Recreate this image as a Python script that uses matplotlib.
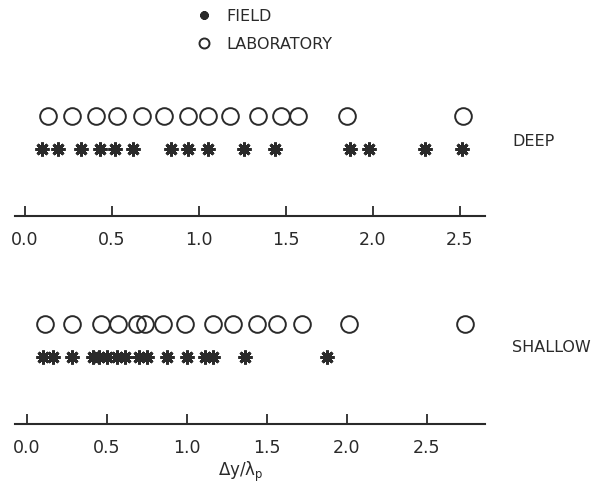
import matplotlib
matplotlib.use('Agg')
import matplotlib.pyplot as plt

# values (dy / lambda_p)
deep_lab = [0.13, 0.27, 0.41, 0.53, 0.67, 0.80, 0.94, 1.05, 1.18, 1.34, 1.47, 1.57, 1.85, 2.52]
deep_field = [0.10, 0.19, 0.32, 0.43, 0.52, 0.62, 0.84, 0.94, 1.05, 1.26, 1.44, 1.87, 1.98, 2.30, 2.51]
shallow_lab = [0.11, 0.28, 0.46, 0.57, 0.69, 0.74, 0.85, 0.99, 1.16, 1.29, 1.44, 1.56, 1.72, 2.01, 2.74]
shallow_field = [0.10, 0.16, 0.28, 0.41, 0.45, 0.50, 0.56, 0.61, 0.70, 0.75, 0.875, 1.0, 1.11, 1.16,
                 1.36, 1.875]
tick_values = [0.0, 0.5, 1.0, 1.5, 2.0, 2.5]
tick_labels = ['0.0', '0.5', '1.0', '1.5', '2.0', '2.5']
panel_names = ['DEEP', 'SHALLOW']

plt.rcParams['font.family'] = ['DejaVu Sans']
plt.rcParams['mathtext.default'] = 'regular'
ink = '#2a2a2a'
W, H = 605, 489

fig = plt.figure(figsize=(W / 100, H / 100), dpi=100)


def px_axes(left, bottom_y, height):
    # left/bottom in pixels from top-left of the picture
    return fig.add_axes([left / W, 1 - bottom_y / H, 470 / W, height / H])


ax_top = px_axes(15, 217, 117)
ax_bot = px_axes(15, 425, 117)
ax_top.set_xlim(-0.057, 2.644)
ax_bot.set_xlim(-0.075, 2.8625)

star = (8, 2, 0)
handles = []
for ax, lab, field in [(ax_top, deep_lab, deep_field), (ax_bot, shallow_lab, shallow_field)]:
    h_lab, = ax.plot(lab, [3] * len(lab), linestyle='None', marker='o', markersize=12,
                     markerfacecolor='none', markeredgecolor=ink, markeredgewidth=1.4)
    h_field, = ax.plot(field, [2] * len(field), linestyle='None', marker=star, markersize=10,
                       markeredgecolor=ink, markeredgewidth=2.1)
    handles = [h_field, h_lab]
    ax.set_ylim(0, 3.5)
    ax.set_yticks([])
    for side in ['left', 'right', 'top']:
        ax.spines[side].set_visible(False)
    ax.spines['bottom'].set_linewidth(1.5)
    ax.spines['bottom'].set_color(ink)
    ax.set_xticks(tick_values)
    ax.set_xticklabels(tick_labels)
    ax.tick_params(axis='x', direction='in', length=7, width=1.3, color=ink, pad=10,
                   labelsize=12.5, labelcolor=ink)
    ax.patch.set_alpha(0)

fig.text(512 / W, 1 - 142 / H, panel_names[0], fontsize=11.5, color=ink, va='center', ha='left')
fig.text(512 / W, 1 - 348 / H, panel_names[1], fontsize=11.5, color=ink, va='center', ha='left')

ax_bot.set_xlabel(r'$\Delta y/\lambda_p$', fontsize=12, color=ink, labelpad=4)
ax_bot.xaxis.set_label_coords((241 - 15) / 470, -0.3)

fig.legend(handles, ['FIELD', 'LABORATORY'], loc='upper left', bbox_to_anchor=(182 / W, 1 + 5 / H),
           frameon=False, markerscale=0.6, handlelength=1.0, handletextpad=0.9,
           labelspacing=0.8, fontsize=11.5, labelcolor=ink)

plt.savefig('out.png', dpi=100)
plt.close('all')
